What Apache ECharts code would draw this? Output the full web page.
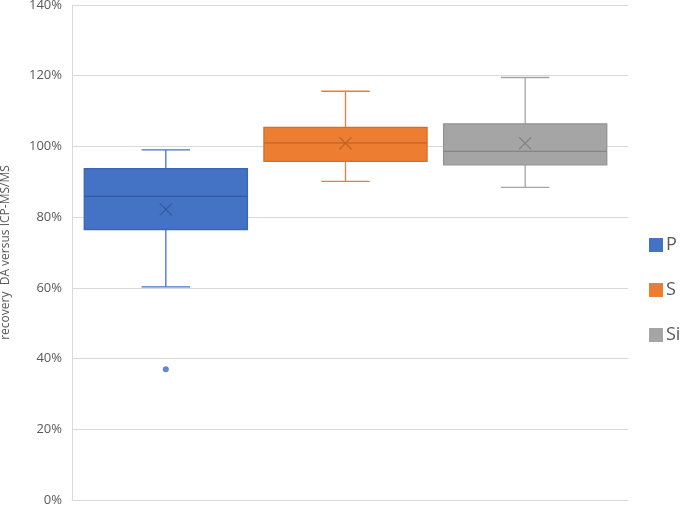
<!DOCTYPE html>
<html>
<head>
<meta charset="utf-8">
<script src="https://cdn.jsdelivr.net/npm/echarts@6/dist/echarts.min.js"></script>
<style>html,body{margin:0;padding:0;background:#fff;}#c{width:685px;height:506px;}</style>
</head>
<body>
<div id="c"></div>
<script>
// Data (percent)
const categories = ['P', 'S', 'Si'];
// [min whisker, Q1, median, Q3, max whisker]
const boxP = [60.3, 76.5, 85.9, 93.7, 99.0];
const boxS = [90.1, 95.8, 101.0, 105.4, 115.6];
const boxSi = [88.4, 94.8, 98.6, 106.4, 119.5];
const means = [82.2, 100.9, 100.9];
const outliersP = [37.0];

const fills = ['#4472C4', '#ED7D31', '#A5A5A5'];
const borders = ['#3A66B5', '#D56F2A', '#939393'];
const markColors = ['#3559A0', '#C0632A', '#858585'];
const boxes = [boxP, boxS, boxSi];

const chart = echarts.init(document.getElementById('c'), null, {renderer: 'canvas'});

function makeRender(i) {
  return function (params, api) {
    const xi = api.value(0);
    const vMin = api.value(1), q1 = api.value(2), med = api.value(3), q3 = api.value(4), vMax = api.value(5), mean = api.value(6);
    const band = api.size([1, 0])[0];
    const bw = band * 0.908;
    const cw = band * 0.27;
    const pMin = api.coord([xi, vMin]);
    const pQ1 = api.coord([xi, q1]);
    const pMed = api.coord([xi, med]);
    const pQ3 = api.coord([xi, q3]);
    const pMax = api.coord([xi, vMax]);
    const pMean = api.coord([xi, mean]);
    const cx = pMed[0];
    const lineStyle = {stroke: fills[i], lineWidth: 1.3};
    const s = 6;
    return {
      type: 'group',
      children: [
        {type: 'line', shape: {x1: cx, y1: pMax[1], x2: cx, y2: pQ3[1]}, style: lineStyle},
        {type: 'line', shape: {x1: cx, y1: pQ1[1], x2: cx, y2: pMin[1]}, style: lineStyle},
        {type: 'line', shape: {x1: cx - cw / 2, y1: pMax[1], x2: cx + cw / 2, y2: pMax[1]}, style: lineStyle},
        {type: 'line', shape: {x1: cx - cw / 2, y1: pMin[1], x2: cx + cw / 2, y2: pMin[1]}, style: lineStyle},
        {type: 'rect', shape: {x: cx - bw / 2, y: pQ3[1], width: bw, height: pQ1[1] - pQ3[1]},
         style: {fill: fills[i], stroke: borders[i], lineWidth: 1.3}},
        {type: 'line', shape: {x1: cx - bw / 2, y1: pMed[1], x2: cx + bw / 2, y2: pMed[1]},
         style: {stroke: markColors[i], lineWidth: 1.3}},
        {type: 'line', shape: {x1: cx - s, y1: pMean[1] - s, x2: cx + s, y2: pMean[1] + s},
         style: {stroke: markColors[i], lineWidth: 1.3}},
        {type: 'line', shape: {x1: cx - s, y1: pMean[1] + s, x2: cx + s, y2: pMean[1] - s},
         style: {stroke: markColors[i], lineWidth: 1.3}}
      ]
    };
  };
}

const series = categories.map((name, i) => ({
  name: name,
  type: 'custom',
  xAxisIndex: 1,
  yAxisIndex: 1,
  itemStyle: {color: fills[i]},
  encode: {x: 0, y: [1, 2, 3, 4, 5, 6]},
  renderItem: makeRender(i),
  data: [[i].concat(boxes[i], [means[i]])],
  z: 3
}));

series.push({
  type: 'scatter',
  xAxisIndex: 1,
  yAxisIndex: 1,
  symbol: 'circle',
  symbolSize: 6,
  itemStyle: {color: '#3F6BBA'},
  data: outliersP.map(v => [0, v]),
  z: 5
});

const option = {
  animation: false,
  backgroundColor: '#ffffff',
  legend: {
    data: categories,
    orient: 'vertical',
    left: 649,
    top: 236,
    itemWidth: 14,
    itemHeight: 14,
    itemGap: 27,
    icon: 'rect',
    padding: 0,
    textStyle: {fontSize: 18, color: '#595959', fontFamily: 'Open Sans', padding: [0, 0, 0, -2], width: 30, overflow: 'none'}
  },
  grid: [
    {left: 72, right: 57, top: 5, bottom: 6, containLabel: false, outerBoundsMode: 'none'},
    {left: 76, right: 70, top: 5, bottom: 6, containLabel: false, outerBoundsMode: 'none'}
  ],
  xAxis: [
    {type: 'category', gridIndex: 0, data: [''], axisLine: {show: true, lineStyle: {color: '#D9D9D9'}},
     axisTick: {show: false}, axisLabel: {show: false}},
    {type: 'category', gridIndex: 1, data: categories, show: false}
  ],
  yAxis: [
    {type: 'value', gridIndex: 0, min: 0, max: 140, interval: 20,
     name: 'recovery  DA versus ICP-MS/MS', nameLocation: 'middle', nameGap: 60,
     nameTextStyle: {fontSize: 12, color: '#595959', fontFamily: 'Open Sans'},
     axisLine: {show: true, lineStyle: {color: '#D9D9D9'}},
     axisTick: {show: false},
     splitLine: {lineStyle: {color: '#D9D9D9', width: 1}},
     axisLabel: {formatter: '{value}%', fontSize: 13, color: '#595959', margin: 10, fontFamily: 'Open Sans'}},
    {type: 'value', gridIndex: 1, min: 0, max: 140, show: false}
  ],
  series: series
};
chart.setOption(option);
</script>
</body>
</html>
